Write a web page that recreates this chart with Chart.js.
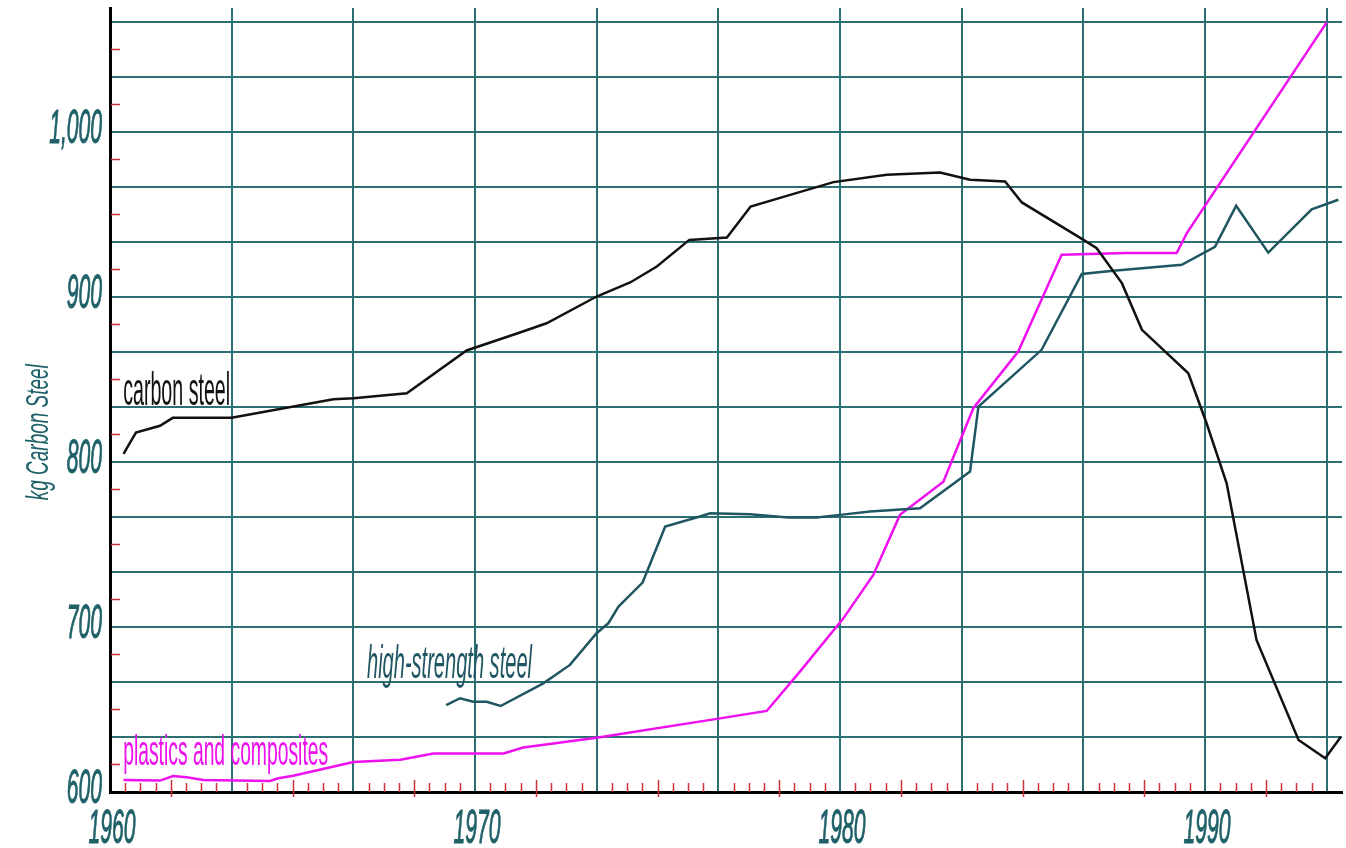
<!DOCTYPE html>
<html>
<head>
<meta charset="utf-8">
<title>kg Carbon Steel</title>
<script src="https://cdn.jsdelivr.net/npm/chart.js@4/dist/chart.umd.min.js"></script>
<style>
  html, body { margin: 0; padding: 0; background: #fff; }
  canvas { display: block; }
</style>
</head>
<body>
<canvas id="steelChart" width="1346" height="848"></canvas>
<script>
// values (year, kg per vehicle)
const carbonYears = [1960.37, 1960.71, 1961.37, 1961.72, 1963.33, 1966.12, 1966.67, 1968.13, 1969.77, 1971.23,
  1971.96, 1973.33, 1974.25, 1974.98, 1975.87, 1976.9, 1977.55, 1978.54, 1979.82, 1981.28, 1982.74, 1983.56,
  1984.52, 1984.98, 1986.67, 1987.03, 1987.72, 1988.27, 1989.54, 1990.04, 1990.59, 1991.41, 1992.56, 1993.29, 1993.72];
const carbonValues = [804.8, 817.8, 821.9, 826.7, 826.7, 838.0, 838.6, 841.6, 867.5, 878.4,
  884.0, 900.2, 908.7, 918.4, 934.5, 935.9, 954.7, 961.2, 969.5, 974.0, 975.3, 970.9,
  969.9, 957.2, 934.5, 929.5, 908.3, 880.0, 853.7, 823.4, 787.0, 692.0, 631.5, 620.4, 633.5];

const hssYears = [1969.21, 1969.59, 1969.95, 1970.32, 1970.7, 1971.87, 1972.6, 1973.33, 1973.65, 1973.93,
  1974.59, 1975.21, 1976.16, 1976.44, 1977.53, 1978.58, 1979.36, 1980.0, 1980.82, 1982.19, 1983.56,
  1983.79, 1985.52, 1986.62, 1987.49, 1989.36, 1990.27, 1990.85, 1991.73, 1992.92, 1993.65];
const hssValues = [652.7, 656.8, 654.7, 654.7, 652.1, 665.8, 677.0, 696.2, 702.2, 712.3,
  726.9, 760.8, 766.9, 768.9, 768.3, 766.3, 766.3, 767.9, 769.9, 771.9, 794.1,
  833.5, 867.9, 913.9, 915.8, 919.4, 930.3, 955.2, 926.8, 953.0, 958.8];

const plasticYears = [1960.37, 1961.37, 1961.73, 1962.1, 1962.56, 1964.38, 1964.61, 1965.02, 1966.67, 1967.95,
  1968.86, 1970.78, 1971.32, 1973.33, 1976.71, 1977.99, 1978.9, 1980.09, 1980.91, 1981.64, 1982.83,
  1983.65, 1984.88, 1986.07, 1987.85, 1989.22, 1989.5, 1993.33];
const plasticValues = [607.3, 606.9, 609.7, 608.9, 607.3, 606.7, 608.3, 609.9, 618.2, 619.5,
  623.3, 623.3, 627.0, 632.9, 644.6, 649.1, 672.9, 705.2, 731.5, 767.9, 788.0,
  832.5, 866.9, 925.5, 926.5, 926.5, 938.6, 1066.3];

const seriesNames = ['carbon steel', 'high-strength steel', 'plastics and composites'];
const xLabelYears = [1960, 1970, 1980, 1990];
const yLabelValues = [600, 700, 800, 900, 1000];
const yTitle = 'kg Carbon Steel';

// grid every third of a decade / third of a hundred kg
const xMin = 1960, xMax = 1993.75, xStep = 10 / 3;
const yMin = 600, yMax = 1075, yStep = 100 / 3;

const font = "'Liberation Sans', Arial, sans-serif";
const teal = '#1f6168';
const gridTeal = '#2d7074';
const tickRed = '#c8303a';

const toPoints = (xs, ys) => xs.map((x, i) => ({ x, y: ys[i] }));

const stepValues = (min, max, step) => {
  const out = [];
  for (let v = min; v <= max + 1e-6; v += step) out.push(+v.toFixed(4));
  return out;
};

// draw text squeezed horizontally, like the condensed face of the original
function squeezed(ctx, text, x, y, sx, align) {
  ctx.save();
  ctx.translate(x, y);
  ctx.scale(sx, 1);
  ctx.textAlign = align;
  ctx.fillText(text, 0, 0);
  ctx.strokeText(text, 0, 0);
  ctx.restore();
}

// short red ticks between the grid lines, longer ones halfway
const redTicks = {
  id: 'redTicks',
  afterDraw(chart) {
    const { ctx, scales: { x, y } } = chart;
    ctx.save();
    ctx.strokeStyle = tickRed;
    ctx.lineWidth = 1.5;
    ctx.beginPath();
    for (let v = yMin + yStep / 2; v < yMax; v += yStep) {
      const py = Math.round(y.getPixelForValue(v)) + 0.5;
      ctx.moveTo(x.left + 1, py);
      ctx.lineTo(x.left + 10, py);
    }
    const sub = xStep / 8;
    for (let k = 1; xMin + k * sub < xMax - 0.1; k++) {
      if (k % 8 === 0) continue;
      const px = Math.round(x.getPixelForValue(xMin + k * sub)) + 0.5;
      const b = y.bottom;
      if (k % 8 === 4) {
        ctx.moveTo(px, b - 12);
        ctx.lineTo(px, b + 5);
      } else {
        ctx.moveTo(px, b - 9);
        ctx.lineTo(px, b);
      }
    }
    ctx.stroke();
    ctx.restore();
  }
};

// axis numbers and title in the tall narrow lettering
const axisText = {
  id: 'axisText',
  afterDraw(chart) {
    const { ctx, scales: { x, y } } = chart;
    ctx.save();
    ctx.fillStyle = teal;
    ctx.strokeStyle = teal;
    ctx.lineWidth = 1;
    ctx.textBaseline = 'alphabetic';
    ctx.font = `italic 48px ${font}`;
    yLabelValues.forEach(v => {
      squeezed(ctx, v.toLocaleString('en-US'), x.left - 8, y.getPixelForValue(v) + 11, 0.44, 'right');
    });
    xLabelYears.forEach(v => {
      squeezed(ctx, String(v), x.getPixelForValue(v) + 2, y.bottom + 51, 0.44, 'center');
    });
    ctx.font = `italic 31px ${font}`;
    ctx.translate(39, y.getPixelForValue(818));
    ctx.rotate(-Math.PI / 2);
    ctx.textAlign = 'center';
    ctx.textBaseline = 'middle';
    ctx.fillText(yTitle, 0, 0, 136);
    ctx.restore();
  }
};

// series names written next to their lines
const lineNames = {
  id: 'lineNames',
  afterDatasetsDraw(chart, args, opts) {
    const { ctx, scales: { x, y } } = chart;
    ctx.save();
    ctx.textBaseline = 'alphabetic';
    ctx.textAlign = 'left';
    opts.items.forEach(it => {
      ctx.font = `${it.style} ${it.size}px ${font}`;
      ctx.fillStyle = it.color;
      ctx.fillText(it.text, x.getPixelForValue(it.x), y.getPixelForValue(it.y), it.width);
    });
    ctx.restore();
  }
};

new Chart(document.getElementById('steelChart'), {
  type: 'line',
  data: {
    datasets: [
      { label: seriesNames[0], data: toPoints(carbonYears, carbonValues), borderColor: '#111111', borderWidth: 2.5 },
      { label: seriesNames[1], data: toPoints(hssYears, hssValues), borderColor: '#1f5662', borderWidth: 2.5 },
      { label: seriesNames[2], data: toPoints(plasticYears, plasticValues), borderColor: '#ee10ee', borderWidth: 2.5 }
    ]
  },
  options: {
    responsive: false,
    animation: false,
    layout: { padding: { top: 8, right: 4, left: 0, bottom: 0 } },
    elements: { point: { radius: 0 }, line: { tension: 0 } },
    plugins: {
      legend: { display: false },
      tooltip: { enabled: false },
      lineNames: {
        items: [
          { text: seriesNames[0], x: 1960.36, y: 834.5, size: 46, width: 107, color: '#111111', style: 'normal' },
          { text: seriesNames[1], x: 1967.04, y: 669.1, size: 46, width: 165, color: '#1f5662', style: 'italic' },
          { text: seriesNames[2], x: 1960.36, y: 616.4, size: 42, width: 205, color: '#ee10ee', style: 'normal' }
        ]
      }
    },
    scales: {
      x: {
        type: 'linear',
        min: xMin,
        max: xMax,
        afterBuildTicks: s => { s.ticks = stepValues(xMin, xMax, xStep).map(value => ({ value })); },
        afterFit: s => { s.height = 56; s.paddingLeft = 0; s.paddingRight = 0; },
        grid: { color: gridTeal, lineWidth: 2, drawTicks: false },
        border: { color: '#000', width: 3 },
        ticks: { display: false }
      },
      y: {
        min: yMin,
        max: yMax,
        afterBuildTicks: s => { s.ticks = stepValues(yMin, yMax, yStep).map(value => ({ value })); },
        afterFit: s => { s.width = 110; s.paddingTop = 0; s.paddingBottom = 0; },
        grid: { color: gridTeal, lineWidth: 2, drawTicks: false },
        border: { color: '#000', width: 3 },
        ticks: { display: false }
      }
    }
  },
  plugins: [redTicks, lineNames, axisText]
});
</script>
</body>
</html>
